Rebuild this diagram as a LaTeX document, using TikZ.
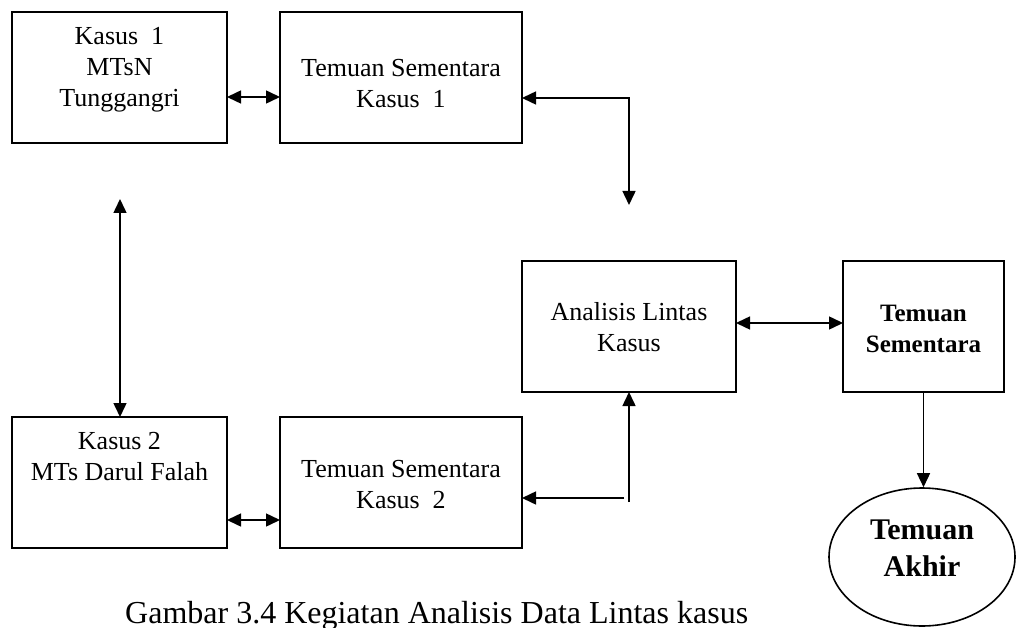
\documentclass[tikz,border=0pt]{standalone}
\usepackage{fontspec}
\setmainfont{Liberation Serif}
\usetikzlibrary{arrows.meta,shapes.geometric,calc}
\begin{document}
\begin{tikzpicture}[x=1pt,y=-1pt,
  boxnode/.style={draw, line width=1.6pt, rectangle, inner sep=0pt, outer sep=0pt},
  txt/.style={inner sep=0pt, outer sep=0pt, align=center, font=\fontsize{26}{31}\selectfont},
  btxt/.style={inner sep=0pt, outer sep=0pt, align=center, font=\fontsize{25}{31}\selectfont\bfseries},
  conn/.style={line width=1.5pt, arrows={-Triangle[length=14pt,width=13pt]}},
  dconn/.style={line width=1.5pt, arrows={Triangle[length=14pt,width=13pt]-Triangle[length=14pt,width=13pt]}}]
\useasboundingbox (0,0) rectangle (1016,628);

% boxes
\node[boxnode, minimum width=215pt, minimum height=131pt] (k1) at (119.5,77.5) {};
\node[boxnode, minimum width=242pt, minimum height=131pt] (ts1) at (401,77.5) {};
\node[boxnode, minimum width=215pt, minimum height=131pt] (k2) at (119.5,482.5) {};
\node[boxnode, minimum width=242pt, minimum height=131pt] (ts2) at (401,482.5) {};
\node[boxnode, minimum width=214pt, minimum height=131pt] (al) at (629,326.5) {};
\node[boxnode, minimum width=161pt, minimum height=131pt] (tsf) at (923.5,326.5) {};
\node[draw, line width=1.6pt, ellipse, inner sep=0pt, minimum width=186pt, minimum height=138pt] (akhir) at (922,557) {};

% texts
\node[txt, anchor=north] (k1t) at (119.5,27.4) {Kasus~ 1\\MTsN\\Tunggangri};
\node[txt, anchor=north] (ts1t) at (401,58.8) {Temuan Sementara\\Kasus~ 1};
\node[txt, anchor=north] (k2t) at (119.5,432.4) {Kasus 2\\MTs Darul Falah};
\node[txt, anchor=north] (ts2t) at (401,459.8) {Temuan Sementara\\Kasus~ 2};
\node[txt, anchor=north] (alt) at (629,302.2) {Analisis Lintas\\Kasus};
\node[btxt, anchor=north] (tsft) at (923.5,305.4) {Temuan\\Sementara};
\node[inner sep=0pt, align=center, font=\fontsize{30}{37}\selectfont\bfseries, anchor=north] (akhirt) at (922,520) {Temuan\\Akhir};

% caption
\node[inner sep=0pt, anchor=base west, font=\fontsize{32}{38}\selectfont] (cap) at (125,623) {Gambar 3.4 Kegiatan Analisis Data Lintas kasus};

% helper coordinates
\coordinate (r1) at (0,97);
\coordinate (c1) at (629,98);
\coordinate (e1) at (629,205);
\coordinate (e2) at (120,199);
\coordinate (r2) at (0,520);
\coordinate (c2h) at (624,498);
\coordinate (c2v) at (629,502);
\coordinate (r3) at (0,323);

% connectors
\draw[dconn] (k1.east |- r1) -- (ts1.west |- r1);
\draw[dconn] (ts1.east |- c1) -- (c1) -- (e1);
\draw[dconn] (e2) -- (k2.north -| e2);
\draw[dconn] (k2.east |- r2) -- (ts2.west |- r2);
\draw[conn] (c2h) -- (ts2.east |- c2h);
\draw[conn] (c2v) -- (al.south -| c2v);
\draw[dconn] (al.east |- r3) -- (tsf.west |- r3);
\draw[conn] (tsf.south) -- (tsf.south |- akhir.north);
\end{tikzpicture}
\end{document}
